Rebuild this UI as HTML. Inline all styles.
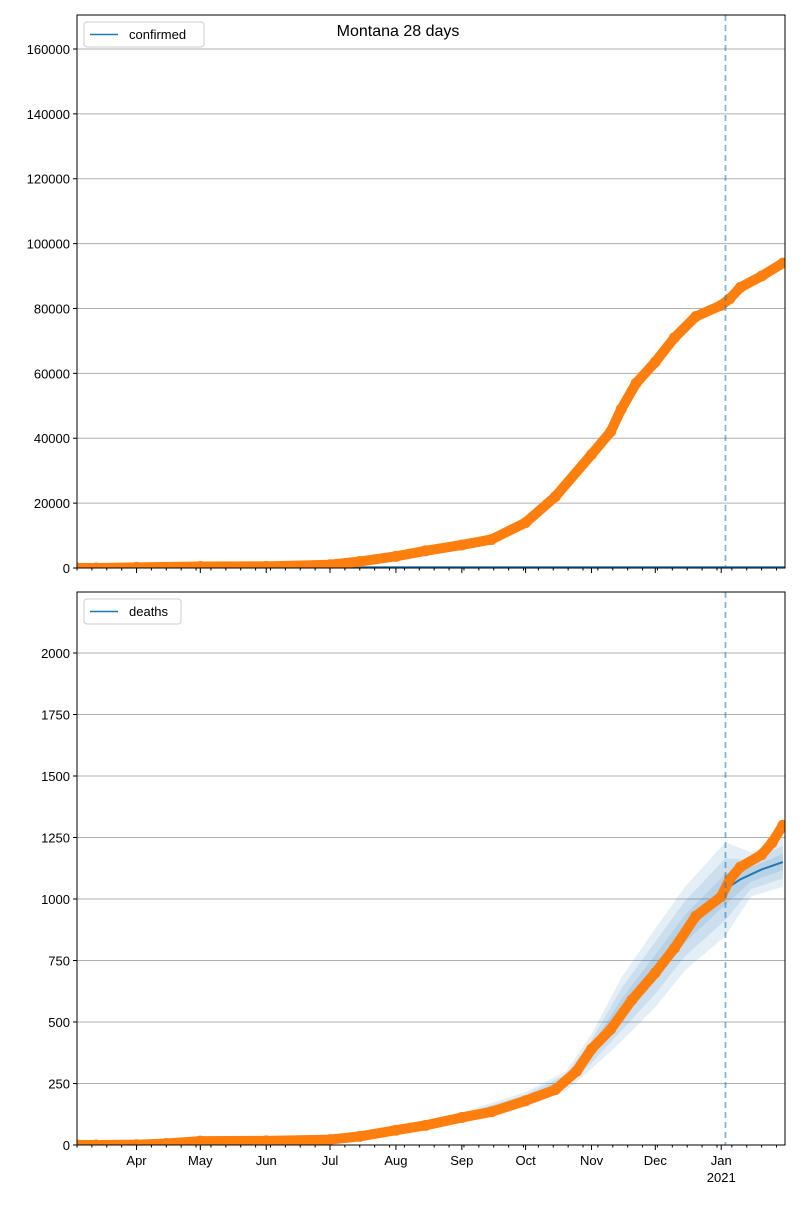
<!DOCTYPE html>
<html><head><meta charset="utf-8"><style>
body{margin:0;background:#fff;font-family:"Liberation Sans","DejaVu Sans",sans-serif;}
svg text{font-family:"Liberation Sans","DejaVu Sans",sans-serif;font-size:13px;fill:#000;}
</style></head><body>
<svg id="chart" width="800" height="1200" xmlns="http://www.w3.org/2000/svg">
<text x="398" y="36" text-anchor="middle" style="font-size:16px">Montana 28 days</text>
</svg>
<script>
// ---- data ----
const confDates=["2020-03-04","2020-03-13","2020-04-01","2020-05-01","2020-06-01","2020-07-01","2020-07-15","2020-08-01","2020-08-15","2020-09-01","2020-09-15","2020-10-01","2020-10-15","2020-11-01","2020-11-10","2020-11-15","2020-11-22","2020-12-01","2020-12-10","2020-12-20","2021-01-01","2021-01-05","2021-01-10","2021-01-20","2021-01-30"];
const confValues=[0,0,200,450,520,1000,2000,3600,5300,7100,8800,14000,22000,35000,42000,49000,57000,63500,71000,77500,81000,83000,86500,90000,94000];
const deathDates=["2020-03-04","2020-03-13","2020-04-01","2020-04-15","2020-05-01","2020-06-01","2020-07-01","2020-07-15","2020-08-01","2020-08-15","2020-09-01","2020-09-15","2020-10-01","2020-10-15","2020-10-25","2020-11-01","2020-11-10","2020-11-20","2020-12-01","2020-12-10","2020-12-20","2021-01-01","2021-01-05","2021-01-10","2021-01-20","2021-01-25","2021-01-30"];
const deathValues=[0,0,1,6,16,17,22,35,60,80,112,135,180,225,300,390,470,590,700,800,930,1010,1080,1130,1180,1230,1300];
const bandDates=["2020-07-15","2020-08-01","2020-09-01","2020-10-01","2020-10-20","2020-11-01","2020-11-15","2020-12-01","2020-12-15","2021-01-03","2021-01-15","2021-01-30"];
const bandMid=[35,62,112,185,260,380,550,720,880,1040,1100,1150];
const bandSpread=[8,12,20,30,40,70,130,160,170,190,90,100];
const fcDates=["2021-01-03","2021-01-10","2021-01-20","2021-01-30"];
const fcValues=[1040,1080,1120,1150];
const confTicks=[0,20000,40000,60000,80000,100000,120000,140000,160000];
const deathTicks=[0,250,500,750,1000,1250,1500,1750,2000];
const monthTicks=["2020-04-01","2020-05-01","2020-06-01","2020-07-01","2020-08-01","2020-09-01","2020-10-01","2020-11-01","2020-12-01","2021-01-01"];
const monthLabels=["Apr","May","Jun","Jul","Aug","Sep","Oct","Nov","Dec","Jan"];
const cutDate="2021-01-03";

// ---- axes ----
const NS="http://www.w3.org/2000/svg",svg=document.getElementById("chart");
const X0=77,X1=785,D0=Date.parse("2020-03-04"),D1=Date.parse("2021-01-31");
const x=d=>X0+(Date.parse(d)-D0)/(D1-D0)*(X1-X0);
function mk(tag,attrs,parent){const e=document.createElementNS(NS,tag);for(const k in attrs)e.setAttribute(k,attrs[k]);(parent||svg).appendChild(e);return e;}
function panel(top,bot,ymax,ticks,name,dates,vals,legend,isDeaths){
  const y=v=>bot-v/ymax*(bot-top);
  const g=mk("g",{});
  
  
  const clipId="clip-"+name;
  const cp=mk("clipPath",{id:clipId},g);mk("rect",{x:X0,y:top,width:X1-X0,height:bot-top},cp);
  ticks.forEach(t=>{
    const l=mk("line",{x1:X0,x2:X1,y1:y(t),y2:y(t),stroke:"#b0b0b0","stroke-width":1},g);
    
    
    mk("line",{x1:X0-4,x2:X0,y1:y(t),y2:y(t),stroke:"#000"},g);
    const tx=mk("text",{x:X0-7,y:y(t)+5,"text-anchor":"end"},g);tx.textContent=t;
    
    
  });
  const pg=mk("g",{"clip-path":"url(#"+clipId+")"},g);
  if(isDeaths){
    [1,0.66,0.33].forEach(f=>{
      let up=bandDates.map((d,i)=>x(d)+","+y(bandMid[i]+bandSpread[i]*f));
      let dn=bandDates.map((d,i)=>x(d)+","+y(Math.max(0,bandMid[i]-bandSpread[i]*f))).reverse();
      const p=mk("polygon",{points:up.concat(dn).join(" "),fill:"#1f77b4","fill-opacity":0.12},pg);
      
      
    });
    const fl=mk("polyline",{points:fcDates.map((d,i)=>x(d)+","+y(fcValues[i])).join(" "),fill:"none",stroke:"#1f77b4","stroke-width":2},pg);
    
    
  } else {
    const fl=mk("line",{x1:X0,x2:X1,y1:y(300),y2:y(300),stroke:"#1f77b4","stroke-width":1.5},pg);
    
    
  }
  const pts=dates.map((d,i)=>x(d)+","+y(vals[i])).join(" ");
  const ol=mk("polyline",{points:pts,fill:"none",stroke:"#ff7f0e","stroke-width":10,"stroke-linejoin":"round","stroke-linecap":"round"},pg);
  
  
  dates.forEach((d,i)=>{
    const c=mk("circle",{cx:x(d),cy:y(vals[i]),r:5.5,fill:"#ff7f0e"},pg);
    
    
  });
  const cl=mk("line",{x1:x(cutDate),x2:x(cutDate),y1:top,y2:bot,stroke:"#1f77b4","stroke-opacity":0.55,"stroke-width":1.8,"stroke-dasharray":"6,4"},g);
  
  
  mk("rect",{x:X0,y:top,width:X1-X0,height:bot-top,fill:"none",stroke:"#000","stroke-width":1},g);
  monthTicks.forEach((d,i)=>{
    mk("line",{x1:x(d),x2:x(d),y1:bot,y2:bot+5,stroke:"#000"},g);
    if(isDeaths){
      const t=mk("text",{x:x(d),y:bot+20,"text-anchor":"middle"},g);t.textContent=monthLabels[i];
      
      
    }
  });
  for(let t=D0;t<=D1;t+=7*864e5){const xx=X0+(t-D0)/(D1-D0)*(X1-X0);mk("line",{x1:xx,x2:xx,y1:bot,y2:bot+2.5,stroke:"#000"},g);}
  if(isDeaths){const t=mk("text",{x:x("2021-01-01"),y:bot+37,"text-anchor":"middle"},g);t.textContent="2021";
    
    }
  const w=legend==="confirmed"?120:97;
  const lg=mk("g",{},g);
  
  
  mk("rect",{x:X0+7,y:top+7,width:w,height:25,rx:3,fill:"#fff",stroke:"#ccc"},lg);
  mk("line",{x1:X0+13,x2:X0+41,y1:top+19.5,y2:top+19.5,stroke:"#1f77b4","stroke-width":1.5},lg);
  const lt=mk("text",{x:X0+52,y:top+24},lg);lt.textContent=legend;
}
panel(15,568,170480,confTicks,"confirmed",confDates,confValues,"confirmed",false);
panel(592,1145,2248,deathTicks,"deaths",deathDates,deathValues,"deaths",true);
</script>
</body></html>
